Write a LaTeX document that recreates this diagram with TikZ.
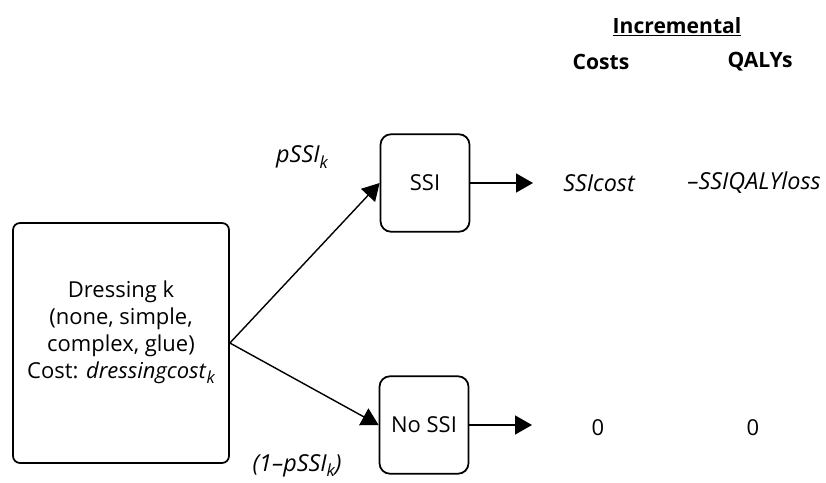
\documentclass[tikz,border=0pt]{standalone}
\usepackage{fontspec}
\setmainfont{Open Sans}
\usetikzlibrary{arrows.meta, positioning}
\newcommand{\subk}{\raisebox{-0.45ex}{\fontsize{9.5}{10}\selectfont\itshape k}}

\begin{document}
\begin{tikzpicture}[
    box/.style={rectangle,rounded corners=6pt,draw=black,line width=1pt,
                minimum width=1.78cm,minimum height=1.95cm,
                font=\fontsize{12.5}{15}\selectfont},
    branch/.style={line width=0.8pt,-{Triangle[length=0.34cm,width=0.38cm]}},
    val/.style={font=\fontsize{12.5}{15}\selectfont},
    ival/.style={font=\fontsize{13.3}{15}\selectfont\itshape},
    head/.style={font=\fontsize{12}{15}\selectfont\bfseries}]
    \useasboundingbox (0,0) rectangle (16.52,9.64);
    % Dressing choice
    \node[box,rounded corners=4pt,minimum width=4.32cm,minimum height=4.8cm,
          align=center,font=\fontsize{12.5}{15.3}\selectfont](dress)at(2.42,2.78)
         {Dressing k\\(none, simple,\\complex, glue)\\
          Cost: \textit{dressingcost}\subk\\\mbox{}};
    % Outcomes
    \node[box](ssi)at(8.5,5.98){SSI};
    \node[box](nossi)at(8.48,1.14){No SSI};
    \draw[branch](dress.east)--(ssi.west);
    \draw[branch](dress.east)--(nossi.west);
    \node[ival](pssi)at(6.04,6.5){pSSI\subk};
    \node[ival](qssi)at(5.94,0.33){(1--pSSI\subk)};
    % Payoffs
    \node[ival](ssicost)at(11.98,5.98){SSIcost};
    \node[ival](ssiqaly)at(15.08,5.98){--SSIQALYloss};
    \node[val](nocost)at(11.96,1.08){0};
    \node[val](noqaly)at(15.06,1.08){0};
    \coordinate(ssiend)at(10.66,5.98);
    \coordinate(noend)at(10.64,1.14);
    \draw[branch](ssi.east)--(ssiend);
    \draw[branch](nossi.east)--(noend);
    % Header
    \node[head](incr)at(13.54,9.1){\underline{Incremental}};
    \node[head](costs)at(12.02,8.4){Costs};
    \node[head](qalys)at(15.2,8.4){QALYs};
\end{tikzpicture}
\end{document}
